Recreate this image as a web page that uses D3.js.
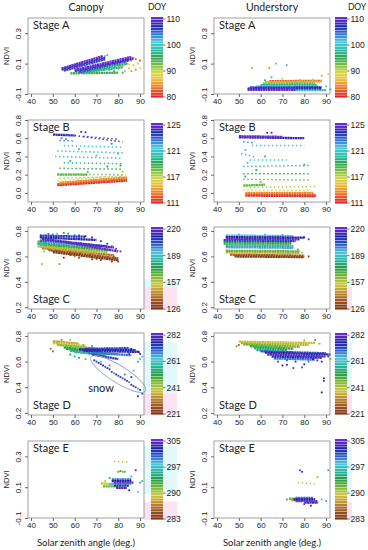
<!DOCTYPE html>
<html>
<head>
<meta charset="utf-8">
<script src="https://cdn.jsdelivr.net/npm/d3@7"></script>
<style>
  body { margin: 0; background: #fff; }
  text { fill: #222; }
</style>
</head>
<body>
<script>
// ---- data: [sza, ndvi, doy] points, [sza1, ndvi1, sza2, ndvi2, doy] bands (dense) and rows (sparse) ----
var doyRangeA = [80, 110], doyTicksA = [80, 90, 100, 110];
var doyRangeB = [111, 125], doyTicksB = [111, 117, 121, 125];
var doyRangeC = [126, 220], doyTicksC = [126, 157, 189, 220];
var doyRangeD = [221, 282], doyTicksD = [221, 241, 261, 282];
var doyRangeE = [283, 305], doyTicksE = [283, 290, 297, 305];
var xTicks = [40, 50, 60, 70, 80, 90];

var canopyA_bands = [
  [54, 0.068, 73, 0.150, 110], [54, 0.060, 74, 0.140, 108], [55, 0.053, 74, 0.128, 105],
  [60, 0.058, 86, 0.144, 110], [60, 0.050, 87, 0.134, 108], [62, 0.044, 85, 0.120, 105],
  [63, 0.040, 84, 0.100, 96], [58, 0.036, 80, 0.040, 94], [66, 0.046, 82, 0.076, 97]
];
var canopyA_rows = [];
var canopyA_pts = [
  [74, 0.150, 101], [75, 0.156, 100], [80, 0.060, 88], [82, 0.080, 86], [84, 0.100, 84],
  [85, 0.070, 87], [86, 0.120, 83], [87, 0.090, 90], [88, 0.130, 82], [89, 0.100, 86],
  [90, 0.070, 89], [83, 0.050, 91], [81, 0.110, 88], [86, 0.050, 92], [78, 0.070, 90],
  [84, 0.130, 85], [88, 0.060, 84], [90, 0.120, 81], [87, 0.140, 86], [80, 0.090, 93],
  [76, 0.060, 95], [78, 0.050, 96], [82, 0.040, 94], [85, 0.095, 89]
];
var underA_bands = [
  [62, -0.022, 88, -0.018, 86], [64, -0.016, 88, -0.013, 82], [61, -0.032, 85, -0.030, 92],
  [60, -0.042, 86, -0.040, 97], [58, -0.050, 86, -0.048, 101], [75, -0.075, 90, -0.075, 99],
  [55, -0.057, 88, -0.055, 105], [54, -0.064, 88, -0.062, 108], [54, -0.072, 76, -0.072, 110]
];
var underA_rows = [];
var underA_pts = [
  [56, 0.070, 92], [64, 0.070, 84], [67, 0.100, 101], [72, 0.090, 100], [91, 0.030, 88],
  [88, 0.020, 85], [90, -0.050, 100], [92, -0.070, 97], [62, -0.010, 95], [70, 0.000, 90],
  [78, -0.010, 85], [65, 0.010, 98], [84, -0.005, 87]
];

var canopyB_bands = [
  [52, 0.085, 84, 0.135, 111], [52, 0.095, 84, 0.150, 112], [53, 0.110, 84, 0.170, 113],
  [52, 0.200, 66, 0.200, 117], [50, 0.640, 60, 0.630, 124]
];
var canopyB_rows = [
  [52, 0.130, 84, 0.200, 115], [53, 0.160, 82, 0.180, 116], [52, 0.205, 82, 0.200, 117],
  [53, 0.270, 82, 0.260, 118], [55, 0.330, 82, 0.320, 119], [51, 0.400, 82, 0.380, 120],
  [52, 0.460, 82, 0.440, 120], [55, 0.520, 82, 0.500, 121], [53, 0.575, 60, 0.570, 122],
  [60, 0.630, 82, 0.560, 124], [64, 0.620, 80, 0.590, 125]
];
var canopyB_pts = [
  [63, 0.670, 124], [65, 0.665, 123], [80, 0.430, 120], [81, 0.300, 118], [82, 0.230, 116],
  [56, 0.590, 122], [54, 0.600, 122], [58, 0.350, 119], [62, 0.480, 121], [70, 0.410, 120],
  [75, 0.290, 118], [66, 0.230, 117], [77, 0.540, 122]
];
var underB_bands = [
  [53, -0.030, 85, -0.035, 111], [53, -0.015, 85, -0.020, 112], [53, 0.000, 84, 0.000, 113],
  [52, 0.080, 62, 0.090, 117], [50, 0.610, 80, 0.600, 124], [50, 0.622, 70, 0.615, 125]
];
var underB_rows = [
  [52, 0.030, 82, 0.030, 115], [55, 0.060, 85, 0.070, 116], [52, 0.150, 82, 0.140, 117],
  [52, 0.210, 82, 0.210, 118], [52, 0.290, 82, 0.300, 119], [55, 0.360, 72, 0.360, 120],
  [51, 0.430, 58, 0.390, 120], [56, 0.520, 80, 0.520, 121], [52, 0.560, 57, 0.550, 122]
];
var underB_pts = [
  [63, 0.660, 124], [65, 0.660, 124], [80, 0.310, 119], [62, 0.400, 119], [53, 0.470, 121],
  [58, 0.250, 118], [60, 0.120, 117], [85, -0.030, 111], [54, 0.330, 120], [53, 0.180, 118]
];

var canopyC_bands = [
  [50, 0.635, 80, 0.570, 127], [48, 0.650, 80, 0.585, 132], [45, 0.665, 78, 0.610, 140],
  [43, 0.680, 70, 0.630, 150], [43, 0.720, 47, 0.720, 155], [44, 0.690, 75, 0.635, 160],
  [43, 0.700, 76, 0.650, 170], [43, 0.710, 72, 0.665, 180], [43, 0.700, 47, 0.690, 185],
  [44, 0.725, 75, 0.680, 200], [44, 0.765, 65, 0.755, 205], [44, 0.750, 70, 0.730, 212],
  [45, 0.738, 78, 0.670, 216], [55, 0.715, 80, 0.640, 220]
];
var canopyC_rows = [];
var canopyC_pts = [
  [45, 0.540, 150], [53, 0.540, 165], [57, 0.780, 180], [55, 0.785, 170], [80, 0.560, 130],
  [78, 0.600, 135], [60, 0.600, 140], [52, 0.780, 190], [70, 0.580, 128], [75, 0.585, 131],
  [66, 0.600, 137], [81, 0.640, 218], [48, 0.778, 200], [50, 0.775, 195], [60, 0.770, 190],
  [62, 0.765, 205], [65, 0.760, 208], [68, 0.750, 210], [72, 0.720, 214], [75, 0.700, 216],
  [77, 0.680, 219], [79, 0.660, 220], [55, 0.590, 128], [62, 0.590, 130], [68, 0.578, 127],
  [72, 0.572, 129], [77, 0.560, 127], [50, 0.660, 150], [56, 0.645, 145], [64, 0.630, 148],
  [46, 0.640, 160], [58, 0.612, 133]
];
var underC_bands = [
  [48, 0.600, 80, 0.595, 128], [46, 0.614, 80, 0.606, 135], [44, 0.632, 78, 0.628, 150],
  [44, 0.645, 78, 0.640, 165], [43, 0.700, 74, 0.695, 165], [43, 0.714, 74, 0.708, 175],
  [44, 0.686, 75, 0.682, 185], [44, 0.765, 75, 0.760, 190], [44, 0.673, 75, 0.668, 195],
  [43, 0.728, 76, 0.720, 205], [44, 0.752, 80, 0.748, 212], [44, 0.740, 78, 0.735, 218]
];
var underC_rows = [];
var underC_pts = [
  [82, 0.735, 220], [80, 0.750, 215], [82, 0.600, 128], [77, 0.655, 168], [79, 0.630, 150],
  [50, 0.775, 192], [62, 0.772, 188], [70, 0.770, 194]
];

var canopyD_bands = [
  [50, 0.760, 62, 0.740, 235], [50, 0.745, 65, 0.720, 240], [52, 0.730, 70, 0.700, 245],
  [55, 0.710, 72, 0.680, 250], [56, 0.700, 75, 0.660, 253], [58, 0.685, 74, 0.645, 255],
  [60, 0.675, 80, 0.660, 258], [66, 0.670, 86, 0.650, 268], [65, 0.700, 85, 0.705, 270],
  [68, 0.655, 80, 0.620, 272], [62, 0.695, 88, 0.690, 275], [64, 0.685, 90, 0.675, 278]
];
var canopyD_rows = [];
var canopyD_pts = [
  [69, 0.610, 275], [70, 0.600, 278], [71, 0.590, 272], [72, 0.580, 280], [73, 0.570, 276],
  [74, 0.560, 270], [75, 0.550, 278], [76, 0.540, 274], [77, 0.520, 280], [78, 0.510, 266],
  [79, 0.500, 276], [80, 0.490, 272], [81, 0.480, 279], [82, 0.470, 270], [83, 0.460, 274],
  [84, 0.450, 280], [85, 0.440, 268], [86, 0.420, 276], [87, 0.410, 272], [88, 0.400, 279],
  [89, 0.390, 266], [90, 0.380, 274], [91, 0.350, 270], [83, 0.500, 268], [86, 0.480, 275],
  [87, 0.530, 262], [89, 0.600, 258], [90, 0.620, 262], [91, 0.640, 265], [89, 0.330, 275],
  [50, 0.680, 228], [49, 0.700, 230], [52, 0.750, 224], [54, 0.770, 232], [58, 0.770, 236],
  [72, 0.600, 262], [76, 0.570, 268], [55, 0.750, 238], [60, 0.745, 242], [64, 0.730, 245],
  [68, 0.720, 250], [86, 0.700, 276], [88, 0.680, 280], [90, 0.660, 278], [85, 0.660, 270],
  [60, 0.640, 256], [62, 0.630, 255], [65, 0.620, 258], [58, 0.655, 252]
];
var underD_bands = [
  [50, 0.755, 85, 0.745, 238], [51, 0.745, 82, 0.730, 242], [52, 0.735, 78, 0.715, 246],
  [55, 0.720, 75, 0.700, 250], [57, 0.705, 72, 0.690, 254], [58, 0.690, 75, 0.670, 257],
  [66, 0.625, 85, 0.615, 268], [60, 0.680, 90, 0.665, 270], [65, 0.640, 88, 0.630, 274],
  [62, 0.670, 92, 0.655, 278], [63, 0.655, 90, 0.640, 280]
];
var underD_rows = [];
var underD_pts = [
  [70, 0.570, 276], [72, 0.575, 278], [75, 0.550, 272], [79, 0.555, 270], [80, 0.580, 276],
  [82, 0.600, 268], [88, 0.600, 275], [89, 0.470, 278], [89, 0.450, 280], [88, 0.360, 276],
  [91, 0.640, 270], [92, 0.620, 262], [50, 0.730, 228], [49, 0.720, 232], [85, 0.770, 250],
  [80, 0.765, 245], [87, 0.740, 244], [68, 0.600, 272], [72, 0.610, 270], [76, 0.600, 274],
  [84, 0.620, 276], [86, 0.610, 280]
];

var canopyE_bands = [
  [72, 0.125, 78, 0.120, 290], [73, 0.105, 80, 0.105, 292], [76, 0.120, 86, 0.120, 298],
  [77, 0.150, 86, 0.150, 300], [78, 0.110, 85, 0.110, 302], [77, 0.140, 86, 0.140, 303],
  [79, 0.095, 84, 0.095, 304], [78, 0.130, 87, 0.130, 305]
];
var canopyE_rows = [[78, 0.268, 85, 0.262, 289]];
var canopyE_pts = [
  [80, 0.200, 293], [81, 0.205, 294], [82, 0.200, 292], [83, 0.200, 293], [88, 0.210, 304],
  [90, 0.130, 296], [91, 0.140, 297], [89, 0.070, 298], [85, 0.080, 303], [86, 0.170, 297],
  [76, 0.160, 295], [74, 0.140, 289]
];
var underE_bands = [
  [74, 0.015, 79, 0.015, 290], [73, 0.025, 78, 0.025, 292], [76, 0.030, 84, 0.030, 300],
  [80, 0.000, 86, 0.000, 302], [75, 0.020, 85, 0.020, 303], [76, 0.010, 86, 0.010, 305]
];
var underE_rows = [[77, 0.130, 85, 0.122, 290]];
var underE_pts = [
  [86, 0.165, 291], [78, 0.210, 305], [79, 0.200, 304], [91, 0.210, 296], [86, 0.000, 300],
  [88, 0.020, 298], [90, 0.010, 299], [72, 0.020, 293], [83, -0.020, 303], [80, -0.010, 305]
];

// snow outline: ends of the long axis in [sza, ndvi]
var snowAxis = [[67.5, 0.635], [92.5, 0.37]];
var snowLabel = [66.2, 0.365];

// pale tints next to the colour bars: [doyHigh, doyLow, tint]
var shadeC = [[161, 152, "c"], [152, 126, "p"]];
var shadeD = [[275, 237, "c"], [237, 221, "p"]];
var shadeE = [[303, 290, "c"], [288, 283, "p"]];

// ---- layout ----
var svg = d3.select("body").append("svg").attr("width", 368).attr("height", 550);

var rainbow = d3.piecewise(d3.interpolateRgb, ["#e0222a", "#ea6a26", "#eeb232", "#dcd83c", "#7cc044",
  "#2aa450", "#2cbea8", "#46cce0", "#2f6cd8", "#2228b0", "#6a2ccc"]);
var earthy = d3.piecewise(d3.interpolateRgb, ["#7e3414", "#9c561e", "#bc902e", "#d2c838", "#7ab634",
  "#249a44", "#2cb4a0", "#4cc6da", "#2a56cc", "#2020a4", "#6a2ccc"]);

var rows = [
  {stage: "A", top: 18, bottom: 94, ydom: [-0.1, 0.4], yticks: [-0.1, 0.1, 0.3],
   cbTop: 17, cbBot: 98, range: doyRangeA, ticks: doyTicksA, pal: rainbow, stageAt: "top",
   data: [[canopyA_bands, canopyA_rows, canopyA_pts], [underA_bands, underA_rows, underA_pts]], shade: []},
  {stage: "B", top: 120, bottom: 202, ydom: [-0.1, 0.8], yticks: [0, 0.2, 0.4, 0.6, 0.8],
   cbTop: 123, cbBot: 204, range: doyRangeB, ticks: doyTicksB, pal: rainbow, stageAt: "top",
   data: [[canopyB_bands, canopyB_rows, canopyB_pts], [underB_bands, underB_rows, underB_pts]], shade: []},
  {stage: "C", top: 227, bottom: 309, ydom: [0.186, 0.832], yticks: [0.2, 0.4, 0.6, 0.8],
   cbTop: 227, cbBot: 310, range: doyRangeC, ticks: doyTicksC, pal: earthy, stageAt: "bottom",
   data: [[canopyC_bands, canopyC_rows, canopyC_pts], [underC_bands, underC_rows, underC_pts]], shade: shadeC},
  {stage: "D", top: 333, bottom: 415, ydom: [0.184, 0.823], yticks: [0.2, 0.4, 0.6, 0.8],
   cbTop: 333, cbBot: 415, range: doyRangeD, ticks: doyTicksD, pal: earthy, stageAt: "bottom",
   data: [[canopyD_bands, canopyD_rows, canopyD_pts], [underD_bands, underD_rows, underD_pts]], shade: shadeD},
  {stage: "E", top: 441, bottom: 518, ydom: [-0.1, 0.4], yticks: [-0.1, 0.1, 0.3],
   cbTop: 439, cbBot: 520, range: doyRangeE, ticks: doyTicksE, pal: earthy, stageAt: "top",
   data: [[canopyE_bands, canopyE_rows, canopyE_pts], [underE_bands, underE_rows, underE_pts]], shade: shadeE}
];
var cols = [
  {title: "Canopy", left: 28, right: 144, cb: 151, doyX: 157, shadeL: 144, shadeR: 177},
  {title: "Understory", left: 214, right: 330, cb: 335, doyX: 357, shadeL: 347, shadeR: 352}
];
var tint = {c: "#e2f9fb", p: "#fbe3f3"};
var sans = "Liberation Sans, Arial, sans-serif", soft = "Lato, Open Sans, sans-serif";

cols.forEach(function(col, ci){
  svg.append("text").attr("x", (col.left + col.right) / 2).attr("y", 11)
    .attr("text-anchor", "middle").style("font", "10.5px " + soft).text(col.title);
  svg.append("text").attr("x", col.doyX).attr("y", 10)
    .attr("text-anchor", "middle").style("font", "8.5px " + soft).text("DOY");
  svg.append("text").attr("x", (col.left + col.right) / 2).attr("y", 546)
    .attr("text-anchor", "middle").style("font", "9.5px " + soft).text("Solar zenith angle (deg.)");

  var x = d3.scaleLinear().domain([38.6, 91.8]).range([col.left, col.right]);

  rows.forEach(function(row){
    var y = d3.scaleLinear().domain(row.ydom).range([row.bottom, row.top]);
    var cScale = d3.scaleLinear().domain(row.range).range([0, 1]).clamp(true);
    var colour = function(doy){ return row.pal(cScale(doy)); };
    var g = svg.append("g");

    //pale tints behind the colour bar
    var cbY = d3.scaleLinear().domain(row.range).range([row.cbBot, row.cbTop]);
    row.shade.forEach(function(s){
      g.append("rect").attr("x", col.shadeL).attr("width", col.shadeR - col.shadeL)
        .attr("y", cbY(s[0])).attr("height", cbY(s[1]) - cbY(s[0])).attr("fill", tint[s[2]]);
    });

    //data marks, later days drawn on top
    var d = row.data[ci];
    var marks = [];
    d[0].forEach(function(b){ marks.push({k: "band", v: b, doy: b[4]}); });
    d[1].forEach(function(b){ marks.push({k: "row", v: b, doy: b[4]}); });
    d[2].forEach(function(p){ marks.push({k: "pt", v: p, doy: p[2]}); });
    marks.sort(function(a, b){ return a.doy - b.doy; });

    var plot = g.append("g");
    marks.forEach(function(m){
      var v = m.v;
      if (m.k == "pt") {
        plot.append("rect").attr("x", x(v[0]) - 0.9).attr("y", y(v[1]) - 0.9)
          .attr("width", 1.8).attr("height", 1.8).attr("fill", colour(v[2]));
      } else {
        plot.append("line").attr("x1", x(v[0])).attr("y1", y(v[1]))
          .attr("x2", x(v[2])).attr("y2", y(v[3]))
          .attr("stroke", colour(v[4]))
          .attr("stroke-width", m.k == "band" ? 2.3 : 1.5)
          .attr("stroke-dasharray", m.k == "band" ? "2.2 0.35" : "1.4 2.6");
      }
    });

    //snow outline in canopy stage D
    if (row.stage == "D" && ci == 0) {
      var p1 = [x(snowAxis[0][0]), y(snowAxis[0][1])], p2 = [x(snowAxis[1][0]), y(snowAxis[1][1])];
      var ang = Math.atan2(p2[1] - p1[1], p2[0] - p1[0]) * 180 / Math.PI;
      var len = Math.hypot(p2[0] - p1[0], p2[1] - p1[1]);
      g.append("ellipse").attr("cx", 0).attr("cy", 0).attr("rx", len / 2).attr("ry", 8.5)
        .attr("transform", "translate(" + (p1[0] + p2[0]) / 2 + "," + (p1[1] + p2[1]) / 2 + ") rotate(" + ang + ")")
        .attr("fill", "none").attr("stroke", "#9aaac4").attr("stroke-width", 0.9);
      g.append("text").attr("x", x(snowLabel[0])).attr("y", y(snowLabel[1]))
        .style("font", "11px " + soft).text("snow");
    }

    //plot box
    g.append("rect").attr("x", col.left).attr("y", row.top)
      .attr("width", col.right - col.left).attr("height", row.bottom - row.top)
      .attr("fill", "none").attr("stroke", "#8a8a8a").attr("stroke-width", 0.8);

    //x axis
    var xa = g.append("g").attr("transform", "translate(0," + row.bottom + ")")
      .call(d3.axisBottom(x).tickValues(xTicks).tickSize(3).tickPadding(1.5).tickFormat(d3.format("d")));
    xa.select(".domain").remove();
    xa.selectAll("line").attr("stroke", "#666");
    xa.selectAll("text").style("font", "8px " + sans).attr("fill", "#333");

    //y axis with rotated labels
    var ya = g.append("g").attr("transform", "translate(" + col.left + ",0)")
      .call(d3.axisLeft(y).tickValues(row.yticks).tickSize(3)
        .tickFormat(function(t){ return d3.format(".1f")(t).replace("\u2212", "-"); }));
    ya.select(".domain").remove();
    ya.selectAll("line").attr("stroke", "#666");
    ya.selectAll("text").style("font", "8px " + sans).attr("fill", "#333")
      .attr("x", null).attr("dy", null).attr("text-anchor", "middle")
      .attr("transform", "translate(-7,0) rotate(-90)");

    g.append("text").attr("transform", "translate(" + (col.left - 19) + "," + (row.top + row.bottom) / 2 + ") rotate(-90)")
      .attr("text-anchor", "middle").style("font", "7.5px " + sans).text("NDVI");

    //stage label
    g.append("text").attr("x", col.left + 5)
      .attr("y", row.stageAt == "top" ? row.top + 11 : row.bottom - 6)
      .style("font", "11px " + soft).text("Stage " + row.stage);

    //colour bar: discrete stripes
    var n = 30, h = (row.cbBot - row.cbTop) / n;
    var stripes = d3.range(n);
    g.selectAll(null).data(stripes).enter().append("rect")
      .attr("x", col.cb).attr("width", 12)
      .attr("y", function(i){ return row.cbBot - (i + 1) * h; })
      .attr("height", h - 0.45)
      .attr("fill", function(i){ return row.pal(i / (n - 1)); });

    var ty = d3.scaleLinear().domain([0, row.ticks.length - 1]).range([row.cbBot - 1, row.cbTop + 2]);
    row.ticks.forEach(function(t, i){
      g.append("line").attr("x1", col.cb + 12).attr("x2", col.cb + 14.5)
        .attr("y1", ty(i)).attr("y2", ty(i)).attr("stroke", "#555").attr("stroke-width", 0.8);
      g.append("text").attr("x", col.cb + 15.5).attr("y", ty(i) + 3)
        .style("font", "8.5px " + sans).attr("fill", "#333").text(t);
    });
  });
});
</script>
</body>
</html>
